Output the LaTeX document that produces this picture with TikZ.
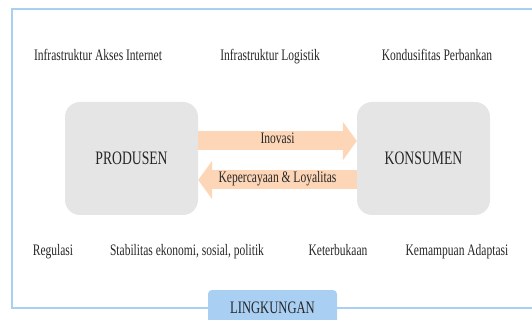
\documentclass[tikz,border=0pt]{standalone}
\usepackage{fontspec}
\setmainfont[FakeStretch=0.72]{Liberation Serif}
\usepackage{tikz}
\usetikzlibrary{arrows.meta}
\usetikzlibrary{positioning}
\definecolor{frameblue}{HTML}{A9CFF3}
\definecolor{boxgray}{HTML}{E5E5E5}
\definecolor{peach}{HTML}{FDD6B8}
\definecolor{txt}{HTML}{262626}
\tikzstyle{actor}=[rectangle,rounded corners=15,fill=boxgray,minimum width=133,minimum height=113,inner sep=0,font=\fontsize{19}{21}\selectfont,text=txt]
\tikzstyle{factor}=[inner sep=0,text height=0.68em,text depth=0.2em,font=\fontsize{16}{18}\selectfont,text=txt]
\tikzstyle{env}=[rectangle,rounded corners=4,fill=frameblue,minimum width=129,minimum height=36,inner sep=0,font=\fontsize{17.5}{19}\selectfont,text=txt]
\tikzstyle{flow}=[line width=19,draw=peach,-{Triangle[width=38pt,length=14pt]}]
\tikzset{every picture/.style={
    x=1pt,y=-1pt
  }
}
\begin{document}
\begin{tikzpicture}
        \useasboundingbox (0,0) rectangle (532,320);
        \clip (0,0) rectangle (532,320);
        \draw[frameblue,line width=2] (12,9) rectangle (548,308);
        \node[factor] at (98,58) (akses) {Infrastruktur Akses Internet};
        \node[factor] at (270,58) (logistik) {Infrastruktur Logistik};
        \node[factor] at (437,58) (bank) {Kondusifitas Perbankan};
        \node[actor] at (131.5,158.5) (prod) {PRODUSEN};
        \node[actor] at (423.5,158.5) (kons) {KONSUMEN};
        \node[factor] at (53,253) (regulasi) {Regulasi};
        \node[factor] at (187,253) (stabil) {Stabilitas ekonomi, sosial, politik};
        \node[factor] at (338,253) (terbuka) {Keterbukaan};
        \node[factor] at (457,253) (adaptasi) {Kemampuan Adaptasi};
        \node[env] at (272.5,308) (ling) {LINGKUNGAN};
        \draw[flow] (prod.east |- 0,141) -- node[factor] (inovasi) {Inovasi} (kons.west |- 0,141);
        \draw[flow] (kons.west |- 0,180) -- node[factor] (loyal) {Kepercayaan \& Loyalitas} (prod.east |- 0,180);
      \end{tikzpicture}
\end{document}
